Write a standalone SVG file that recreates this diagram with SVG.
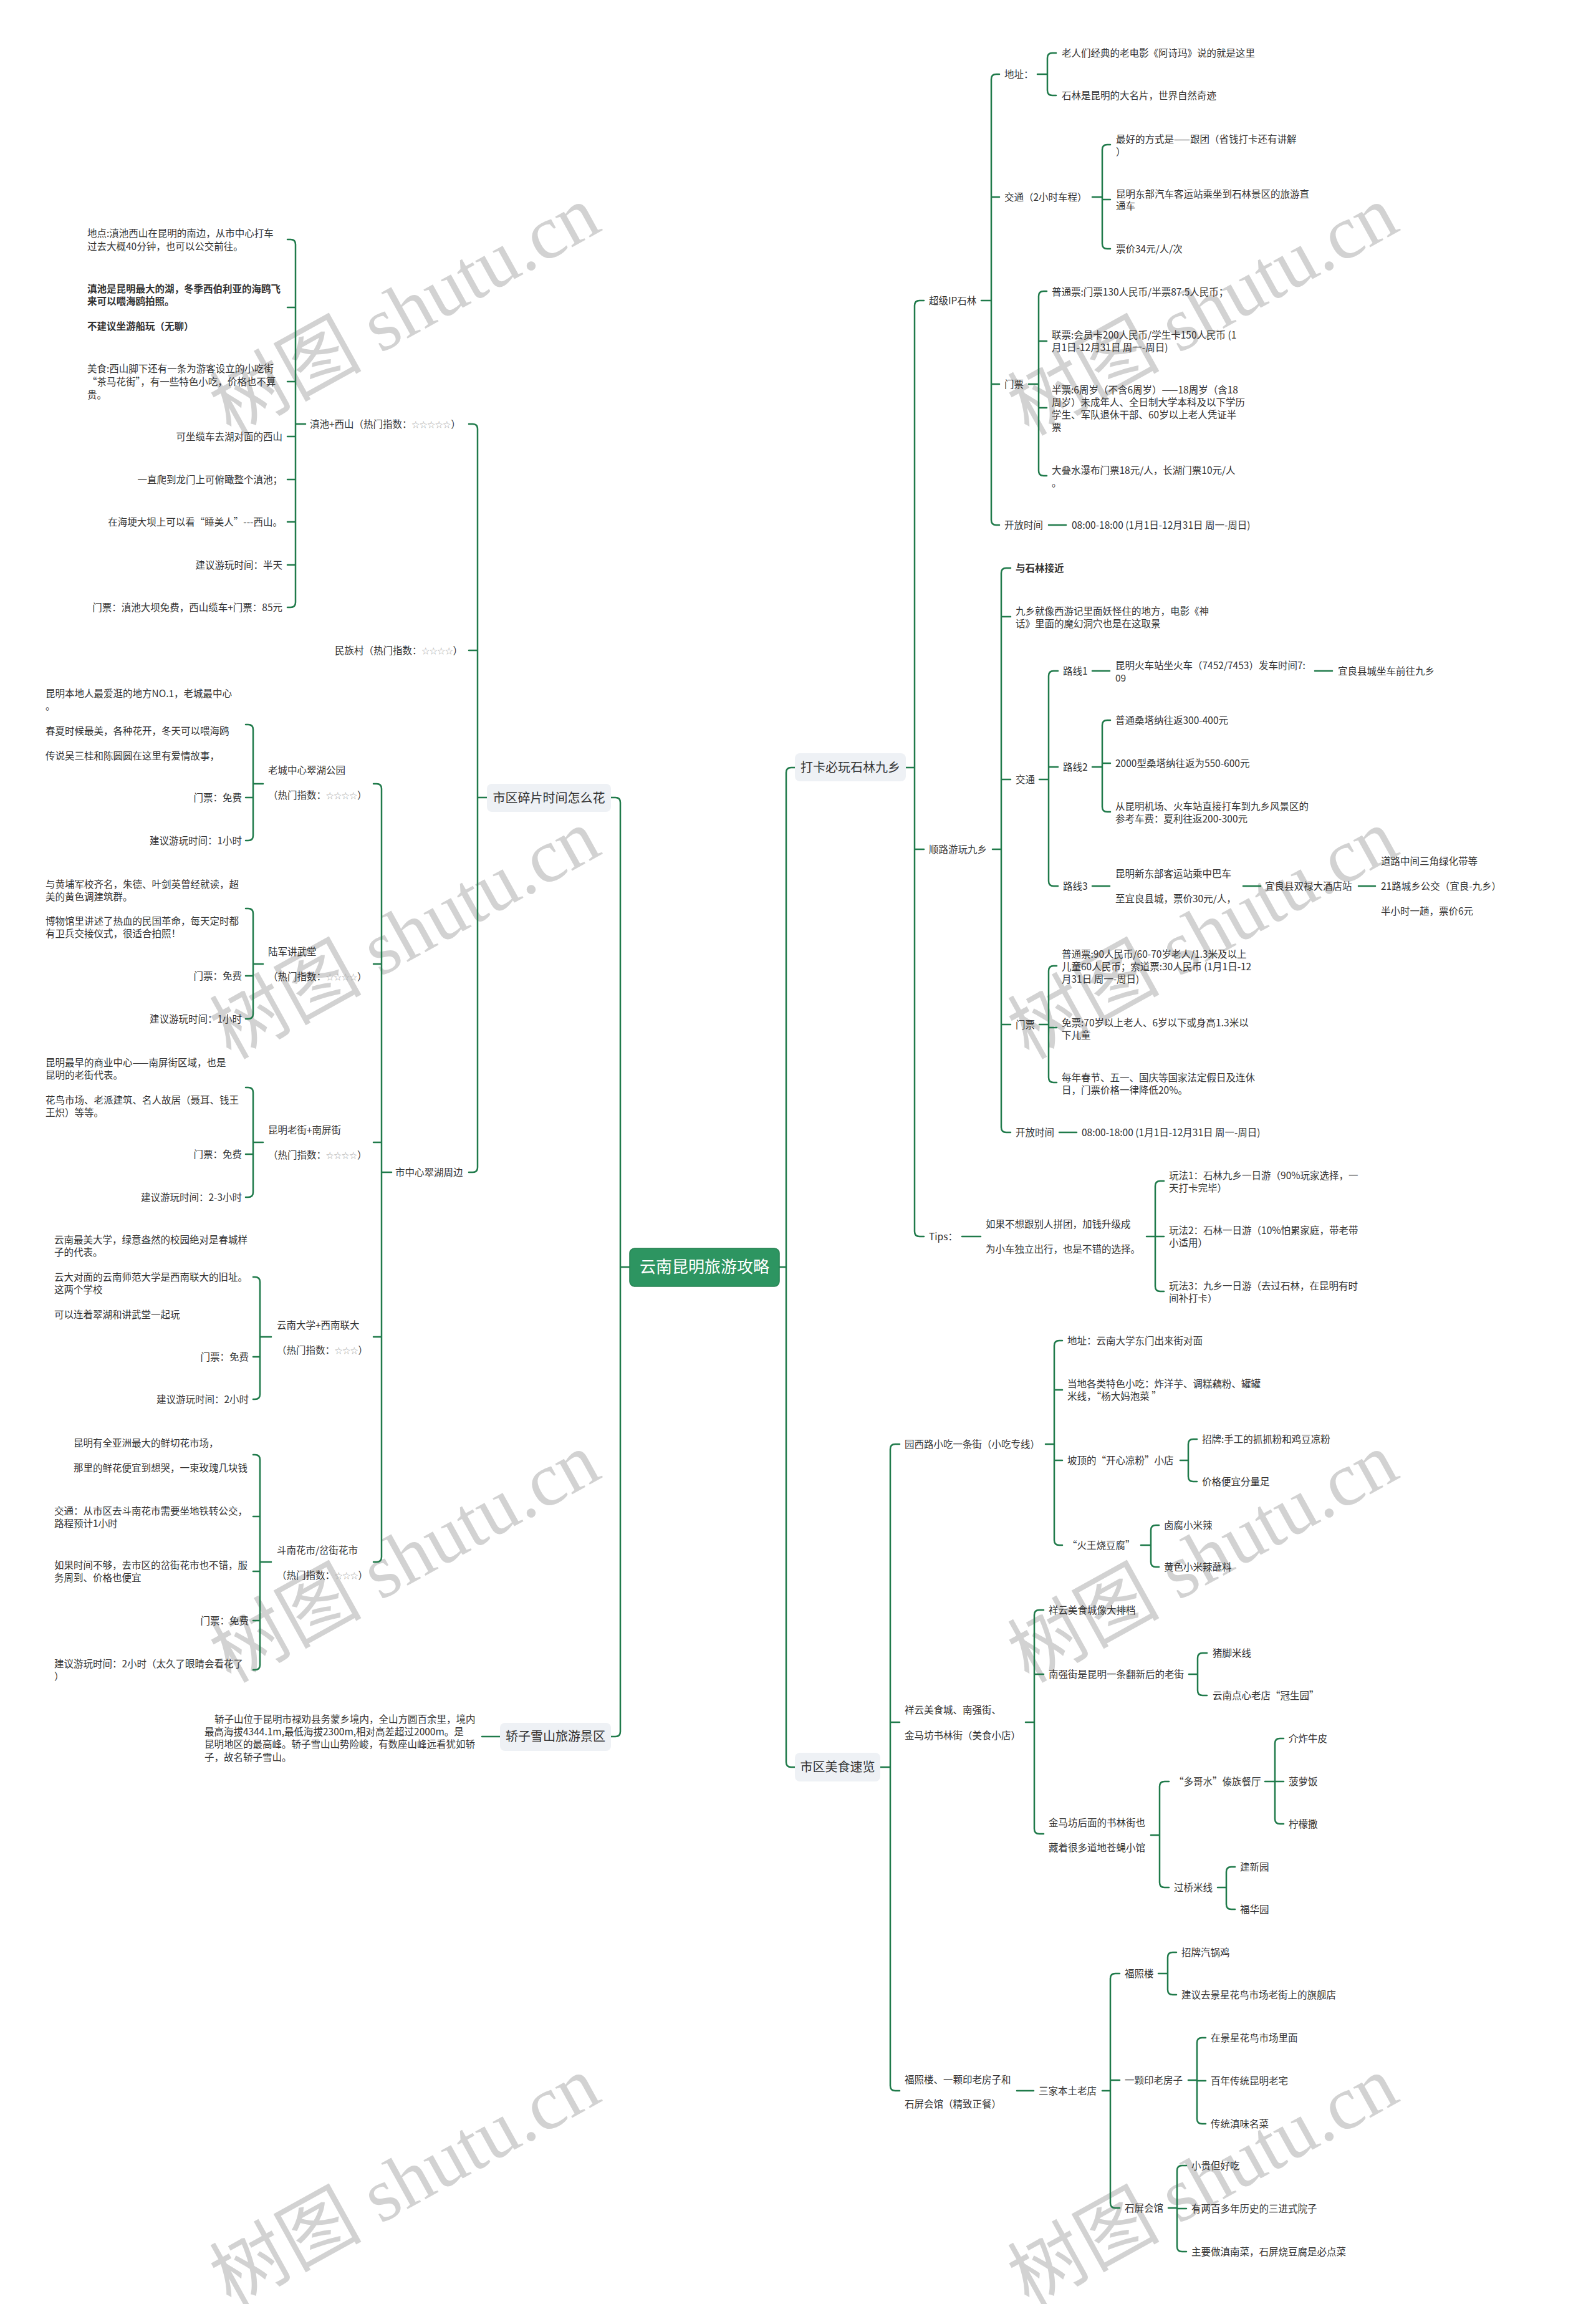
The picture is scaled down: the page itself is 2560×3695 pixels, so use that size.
<svg xmlns="http://www.w3.org/2000/svg" width="2560" height="3695" viewBox="0 0 2560 3695">
<style>
.t{font-family:"Noto Sans CJK SC","Liberation Sans",sans-serif;font-size:15.5px;fill:#333}
.e{text-anchor:end}
.b{font-weight:bold}
.s{font-size:12.5px;fill:#aaa}
.m{font-family:"Noto Sans CJK SC","Liberation Sans",sans-serif;font-size:20px;fill:#333;text-anchor:middle}
.r{font-family:"Noto Sans CJK SC","Liberation Sans",sans-serif;font-size:26px;fill:#fff;text-anchor:middle}
.box{fill:#eef1f5}
.c path{fill:none;stroke:#1f7a4a;stroke-width:2.5;stroke-linecap:round;stroke-linejoin:round}
.wm{font-size:122px;fill:#d2d2d2}
.wc{font-family:"Noto Sans CJK SC",sans-serif}
.wl{font-family:"Liberation Serif",serif}
</style>
<rect width="2560" height="3695" fill="#fff"/>
<g id="watermarks" class="wm">
<text transform="translate(370,700) rotate(-29)"><tspan class="wc">树图</tspan><tspan class="wl"> shutu.cn</tspan></text>
<text transform="translate(1650,700) rotate(-29)"><tspan class="wc">树图</tspan><tspan class="wl"> shutu.cn</tspan></text>
<text transform="translate(370,1700) rotate(-29)"><tspan class="wc">树图</tspan><tspan class="wl"> shutu.cn</tspan></text>
<text transform="translate(1650,1700) rotate(-29)"><tspan class="wc">树图</tspan><tspan class="wl"> shutu.cn</tspan></text>
<text transform="translate(370,2700) rotate(-29)"><tspan class="wc">树图</tspan><tspan class="wl"> shutu.cn</tspan></text>
<text transform="translate(1650,2700) rotate(-29)"><tspan class="wc">树图</tspan><tspan class="wl"> shutu.cn</tspan></text>
<text transform="translate(370,3700) rotate(-29)"><tspan class="wc">树图</tspan><tspan class="wl"> shutu.cn</tspan></text>
<text transform="translate(1650,3700) rotate(-29)"><tspan class="wc">树图</tspan><tspan class="wl"> shutu.cn</tspan></text>
</g>
<g id="connectors" class="c">
<path d="M1250 2032H1261M1275 1231H1269Q1261 1231 1261 1239V2826Q1261 2834 1269 2834H1275"/>
<path d="M1453 1231H1467M1482 482H1475Q1467 482 1467 490V1975Q1467 1983 1475 1983H1482M1467 1362H1482"/>
<path d="M1574 482H1590M1603 119H1598Q1590 119 1590 127V834Q1590 842 1598 842H1603M1590 316H1603M1590 616H1603"/>
<path d="M1664 119H1680M1694 85H1688Q1680 85 1680 93V145Q1680 153 1688 153H1694"/>
<path d="M1752 316H1768M1781 232H1776Q1768 232 1768 240V391Q1768 399 1776 399H1781M1768 320H1781"/>
<path d="M1650 616H1666M1679 467H1674Q1666 467 1666 475V755Q1666 763 1674 763H1679M1666 547H1679M1666 654H1679"/>
<path d="M1682 842H1710"/>
<path d="M1592 1362H1606M1621 911H1614Q1606 911 1606 919V1808Q1606 1816 1614 1816H1621M1606 989H1621M1606 1250H1621M1606 1643H1621"/>
<path d="M1667 1250H1682M1697 1076H1690Q1682 1076 1682 1084V1413Q1682 1421 1690 1421H1697M1682 1230H1697"/>
<path d="M1752 1076H1780M2109 1076H2137"/>
<path d="M1752 1230H1768M1781 1155H1776Q1768 1155 1768 1163V1294Q1768 1302 1776 1302H1781M1768 1224H1781"/>
<path d="M1752 1421H1780M1994 1421H2022M2179 1421H2206"/>
<path d="M1667 1643H1682M1695 1549H1690Q1682 1549 1682 1557V1728Q1682 1736 1690 1736H1695M1682 1648H1695"/>
<path d="M1699 1816H1727"/>
<path d="M1543 1983H1573M1839 1983H1853M1867 1894H1861Q1853 1894 1853 1902V2063Q1853 2071 1861 2071H1867M1853 1983H1867"/>
<path d="M1412 2834H1428M1443 2316H1436Q1428 2316 1428 2324V3345Q1428 3353 1436 3353H1443M1428 2762H1443"/>
<path d="M1677 2316H1691M1704 2150H1699Q1691 2150 1691 2158V2470Q1691 2478 1699 2478H1704M1691 2229H1704M1691 2342H1704"/>
<path d="M1893 2342H1906M1920 2308H1914Q1906 2308 1906 2316V2368Q1906 2376 1914 2376H1920"/>
<path d="M1830 2478H1846M1859 2446H1854Q1846 2446 1846 2454V2505Q1846 2513 1854 2513H1859"/>
<path d="M1645 2762H1659M1674 2582H1667Q1659 2582 1659 2590V2933Q1659 2941 1667 2941H1674M1659 2685H1674"/>
<path d="M1907 2685H1921M1936 2651H1929Q1921 2651 1921 2659V2711Q1921 2719 1929 2719H1936"/>
<path d="M1846 2943H1860M1875 2857H1868Q1860 2857 1860 2865V3019Q1860 3027 1868 3027H1875"/>
<path d="M2029 2857H2045M2059 2788H2053Q2045 2788 2045 2796V2917Q2045 2925 2053 2925H2059M2045 2857H2059"/>
<path d="M1953 3027H1967M1981 2994H1975Q1967 2994 1967 3002V3054Q1967 3062 1975 3062H1981"/>
<path d="M1631 3353H1658"/>
<path d="M1768 3353H1781M1796 3165H1789Q1781 3165 1781 3173V3533Q1781 3541 1789 3541H1796M1781 3336H1796"/>
<path d="M1858 3165H1873M1887 3131H1881Q1873 3131 1873 3139V3191Q1873 3199 1881 3199H1887"/>
<path d="M1906 3336H1920M1934 3268H1928Q1920 3268 1920 3276V3398Q1920 3406 1928 3406H1934M1920 3337H1934"/>
<path d="M1874 3541H1888M1903 3473H1896Q1888 3473 1888 3481V3603Q1888 3611 1896 3611H1903M1888 3542H1903"/>
<path d="M1010 2032H995M980 1279H987Q995 1279 995 1287V2777Q995 2785 987 2785H980"/>
<path d="M781 1279H766M752 680H758Q766 680 766 688V1872Q766 1880 758 1880H752M766 1043H752"/>
<path d="M490 680H474M461 384H466Q474 384 474 392V966Q474 974 466 974H461M474 493H461M474 612H461M474 700H461M474 769H461M474 837H461M474 906H461"/>
<path d="M628 1880H612M599 1257H604Q612 1257 612 1265V2497Q612 2505 604 2505H599M612 1546H599M612 1832H599M612 2144H599"/>
<path d="M422 1257H406M394 1162H398Q406 1162 406 1170V1340Q406 1348 398 1348H394M406 1279H394"/>
<path d="M422 1546H406M394 1457H398Q406 1457 406 1465V1626Q406 1634 398 1634H394M406 1565H394"/>
<path d="M422 1832H406M394 1744H398Q406 1744 406 1752V1912Q406 1920 398 1920H394M406 1851H394"/>
<path d="M435 2144H417M406 2048H409Q417 2048 417 2056V2236Q417 2244 409 2244H406M417 2176H406"/>
<path d="M435 2505H417M406 2333H409Q417 2333 417 2341V2670Q417 2678 409 2678H406M417 2432H406M417 2520H406M417 2599H406"/>
<path d="M802 2785H773"/>
</g>
<g id="root"><rect x="1010" y="2002" width="240" height="61" rx="8" fill="#2d9561" stroke="#23804f" stroke-width="1.5"/><text class="r" x="1130" y="2041">云南昆明旅游攻略</text></g>
<g id="b-daka"><rect class="box" x="1275" y="1208" width="178" height="45" rx="8"/><text class="m" x="1364" y="1238">打卡必玩石林九乡</text></g>
<g id="b-meishi"><rect class="box" x="1275" y="2811" width="137" height="46" rx="8"/><text class="m" x="1343.5" y="2841">市区美食速览</text></g>
<g id="b-suipian"><rect class="box" x="781" y="1257" width="199" height="45" rx="8"/><text class="m" x="880.5" y="1287">市区碎片时间怎么花</text></g>
<g id="b-jiaozi"><rect class="box" x="802" y="2763" width="178" height="45" rx="8"/><text class="m" x="891" y="2792">轿子雪山旅游景区</text></g>
<g id="n-chaoji" class="t"><text x="1490" y="488">超级IP石林</text></g>
<g id="n-dizhi" class="t"><text x="1611" y="125">地址：</text></g>
<g id="n-dizhi1" class="t"><text x="1703" y="91">老人们经典的老电影《阿诗玛》说的就是这里</text></g>
<g id="n-dizhi2" class="t"><text x="1703" y="159">石林是昆明的大名片，世界自然奇迹</text></g>
<g id="n-jt" class="t"><text x="1611" y="322">交通（2小时车程）</text></g>
<g id="n-jt1" class="t"><text x="1790" y="229">最好的方式是——跟团（省钱打卡还有讲解</text><text x="1790" y="249">）</text></g>
<g id="n-jt2" class="t"><text x="1790" y="317">昆明东部汽车客运站乘坐到石林景区的旅游直</text><text x="1790" y="336">通车</text></g>
<g id="n-jt3" class="t"><text x="1790" y="405">票价34元/人/次</text></g>
<g id="n-mp" class="t"><text x="1611" y="622">门票</text></g>
<g id="n-mp1" class="t"><text x="1687" y="474">普通票:门票130人民币/半票87.5人民币；</text></g>
<g id="n-mp2" class="t"><text x="1687" y="543">联票:会员卡200人民币/学生卡150人民币 (1</text><text x="1687" y="563">月1日-12月31日 周一-周日)</text></g>
<g id="n-mp3" class="t"><text x="1687" y="631">半票:6周岁（不含6周岁）——18周岁（含18</text><text x="1687" y="651">周岁）未成年人、全日制大学本科及以下学历</text><text x="1687" y="671">学生、军队退休干部、60岁以上老人凭证半</text><text x="1687" y="691">票</text></g>
<g id="n-mp4" class="t"><text x="1687" y="760">大叠水瀑布门票18元/人，长湖门票10元/人</text><text x="1687" y="780">。</text></g>
<g id="n-kf" class="t"><text x="1611" y="848">开放时间</text></g>
<g id="n-kf1" class="t"><text x="1719" y="848">08:00-18:00 (1月1日-12月31日 周一-周日)</text></g>
<g id="n-shunlu" class="t"><text x="1490" y="1368">顺路游玩九乡</text></g>
<g id="n-sl1" class="t b"><text x="1629" y="917">与石林接近</text></g>
<g id="n-sl2" class="t"><text x="1629" y="986">九乡就像西游记里面妖怪住的地方，电影《神</text><text x="1629" y="1006">话》里面的魔幻洞穴也是在这取景</text></g>
<g id="n-jt9" class="t"><text x="1629" y="1256">交通</text></g>
<g id="n-lx1" class="t"><text x="1705" y="1082">路线1</text></g>
<g id="n-lx1a" class="t"><text x="1789" y="1073">昆明火车站坐火车（7452/7453）发车时间7:</text><text x="1789" y="1093">09</text></g>
<g id="n-lx1b" class="t"><text x="2146" y="1082">宜良县城坐车前往九乡</text></g>
<g id="n-lx2" class="t"><text x="1705" y="1236">路线2</text></g>
<g id="n-lx2a" class="t"><text x="1789" y="1161">普通桑塔纳往返300-400元</text></g>
<g id="n-lx2b" class="t"><text x="1789" y="1230">2000型桑塔纳往返为550-600元</text></g>
<g id="n-lx2c" class="t"><text x="1789" y="1299">从昆明机场、火车站直接打车到九乡风景区的</text><text x="1789" y="1319">参考车费：夏利往返200-300元</text></g>
<g id="n-lx3" class="t"><text x="1705" y="1427">路线3</text></g>
<g id="n-lx3a" class="t"><text x="1789" y="1407">昆明新东部客运站乘中巴车</text><text x="1789" y="1447">至宜良县城，票价30元/人，</text></g>
<g id="n-lx3b" class="t"><text x="2029" y="1427">宜良县双禄大酒店站</text></g>
<g id="n-lx3c" class="t"><text x="2215" y="1387">道路中间三角绿化带等</text><text x="2215" y="1427">21路城乡公交（宜良-九乡）</text><text x="2215" y="1467">半小时一趟，票价6元</text></g>
<g id="n-mp9" class="t"><text x="1629" y="1649">门票</text></g>
<g id="n-mp9a" class="t"><text x="1703" y="1536">普通票:90人民币/60-70岁老人/1.3米及以上</text><text x="1703" y="1556">儿童60人民币；索道票:30人民币 (1月1日-12</text><text x="1703" y="1576">月31日 周一-周日)</text></g>
<g id="n-mp9b" class="t"><text x="1703" y="1646">免票:70岁以上老人、6岁以下或身高1.3米以</text><text x="1703" y="1666">下儿童</text></g>
<g id="n-mp9c" class="t"><text x="1703" y="1734">每年春节、五一、国庆等国家法定假日及连休</text><text x="1703" y="1754">日，门票价格一律降低20%。</text></g>
<g id="n-kf9" class="t"><text x="1629" y="1822">开放时间</text></g>
<g id="n-kf9a" class="t"><text x="1735" y="1822">08:00-18:00 (1月1日-12月31日 周一-周日)</text></g>
<g id="n-tips" class="t"><text x="1490" y="1989">Tips：</text></g>
<g id="n-tips1" class="t"><text x="1581" y="1969">如果不想跟别人拼团，加钱升级成</text><text x="1581" y="2009">为小车独立出行，也是不错的选择。</text></g>
<g id="n-wf1" class="t"><text x="1875" y="1891">玩法1：石林九乡一日游（90%玩家选择，一</text><text x="1875" y="1911">天打卡完毕）</text></g>
<g id="n-wf2" class="t"><text x="1875" y="1979">玩法2：石林一日游（10%怕累家庭，带老带</text><text x="1875" y="1999">小适用）</text></g>
<g id="n-wf3" class="t"><text x="1875" y="2068">玩法3：九乡一日游（去过石林，在昆明有时</text><text x="1875" y="2088">间补打卡）</text></g>
<g id="n-yx" class="t"><text x="1451" y="2322">园西路小吃一条街（小吃专线）</text></g>
<g id="n-yx1" class="t"><text x="1712" y="2156">地址：云南大学东门出来街对面</text></g>
<g id="n-yx2" class="t"><text x="1712" y="2225">当地各类特色小吃：炸洋芋、调糕藕粉、罐罐</text><text x="1712" y="2245">米线，“杨大妈泡菜 ”</text></g>
<g id="n-yx3" class="t"><text x="1712" y="2348">坡顶的“开心凉粉”小店</text></g>
<g id="n-yx3a" class="t"><text x="1928" y="2314">招牌:手工的抓抓粉和鸡豆凉粉</text></g>
<g id="n-yx3b" class="t"><text x="1928" y="2382">价格便宜分量足</text></g>
<g id="n-yx4" class="t"><text x="1712" y="2484">“火王烧豆腐”</text></g>
<g id="n-yx4a" class="t"><text x="1867" y="2452">卤腐小米辣</text></g>
<g id="n-yx4b" class="t"><text x="1867" y="2519">黄色小米辣蘸料</text></g>
<g id="n-xy" class="t"><text x="1451" y="2748">祥云美食城、南强街、</text><text x="1451" y="2789">金马坊书林街（美食小店）</text></g>
<g id="n-xy1" class="t"><text x="1682" y="2588">祥云美食城像大排档</text></g>
<g id="n-xy2" class="t"><text x="1682" y="2691">南强街是昆明一条翻新后的老街</text></g>
<g id="n-xy2a" class="t"><text x="1945" y="2657">猪脚米线</text></g>
<g id="n-xy2b" class="t"><text x="1945" y="2725">云南点心老店“冠生园”</text></g>
<g id="n-xy3" class="t"><text x="1682" y="2929">金马坊后面的书林街也</text><text x="1682" y="2969">藏着很多道地苍蝇小馆</text></g>
<g id="n-dg" class="t"><text x="1883" y="2863">“多哥水”傣族餐厅</text></g>
<g id="n-dg1" class="t"><text x="2067" y="2794">介炸牛皮</text></g>
<g id="n-dg2" class="t"><text x="2067" y="2863">菠萝饭</text></g>
<g id="n-dg3" class="t"><text x="2067" y="2931">柠檬撒</text></g>
<g id="n-gq" class="t"><text x="1883" y="3033">过桥米线</text></g>
<g id="n-gq1" class="t"><text x="1989" y="3000">建新园</text></g>
<g id="n-gq2" class="t"><text x="1989" y="3068">福华园</text></g>
<g id="n-fz" class="t"><text x="1451" y="3341">福照楼、一颗印老房子和</text><text x="1451" y="3380">石屏会馆（精致正餐）</text></g>
<g id="n-sj" class="t"><text x="1666" y="3359">三家本土老店</text></g>
<g id="n-fzl" class="t"><text x="1804" y="3171">福照楼</text></g>
<g id="n-fzl1" class="t"><text x="1895" y="3137">招牌汽锅鸡</text></g>
<g id="n-fzl2" class="t"><text x="1895" y="3205">建议去景星花鸟市场老街上的旗舰店</text></g>
<g id="n-yky" class="t"><text x="1804" y="3342">一颗印老房子</text></g>
<g id="n-yky1" class="t"><text x="1942" y="3274">在景星花鸟市场里面</text></g>
<g id="n-yky2" class="t"><text x="1942" y="3343">百年传统昆明老宅</text></g>
<g id="n-yky3" class="t"><text x="1942" y="3412">传统滇味名菜</text></g>
<g id="n-sp" class="t"><text x="1804" y="3547">石屏会馆</text></g>
<g id="n-sp1" class="t"><text x="1911" y="3479">小贵但好吃</text></g>
<g id="n-sp2" class="t"><text x="1911" y="3548">有两百多年历史的三进式院子</text></g>
<g id="n-sp3" class="t"><text x="1911" y="3617">主要做滇南菜，石屏烧豆腐是必点菜</text></g>
<g id="n-dc" class="t"><text x="497" y="686">滇池+西山（热门指数：<tspan class="s">☆☆☆☆☆</tspan>）</text></g>
<g id="n-dc1" class="t"><text x="140" y="380">地点:滇池西山在昆明的南边，从市中心打车</text><text x="140" y="401">过去大概40分钟，也可以公交前往。</text></g>
<g id="n-dc2" class="t b"><text x="140" y="469">滇池是昆明最大的湖，冬季西伯利亚的海鸥飞</text><text x="140" y="489">来可以喂海鸥拍照。</text><text x="140" y="529">不建议坐游船玩（无聊）</text></g>
<g id="n-dc3" class="t"><text x="140" y="597">美食:西山脚下还有一条为游客设立的小吃街</text><text x="140" y="618">“茶马花街”，有一些特色小吃，价格也不算</text><text x="140" y="639">贵。</text></g>
<g id="n-dc4" class="t e"><text x="453" y="706">可坐缆车去湖对面的西山</text></g>
<g id="n-dc5" class="t e"><text x="453" y="775">一直爬到龙门上可俯瞰整个滇池；</text></g>
<g id="n-dc6" class="t e"><text x="453" y="843">在海埂大坝上可以看“睡美人”---西山。</text></g>
<g id="n-dc7" class="t e"><text x="453" y="912">建议游玩时间：半天</text></g>
<g id="n-dc8" class="t e"><text x="453" y="980">门票：滇池大坝免费，西山缆车+门票：85元</text></g>
<g id="n-mzc" class="t"><text x="537" y="1049">民族村（热门指数：<tspan class="s">☆☆☆☆</tspan>）</text></g>
<g id="n-szx" class="t"><text x="634" y="1886">市中心翠湖周边</text></g>
<g id="n-lc" class="t"><text x="430" y="1241">老城中心翠湖公园</text><text x="430" y="1281">（热门指数：<tspan class="s">☆☆☆☆</tspan>）</text></g>
<g id="n-lc1" class="t"><text x="73" y="1118">昆明本地人最爱逛的地方NO.1，老城最中心</text><text x="73" y="1138">。</text><text x="73" y="1178">春夏时候最美，各种花开，冬天可以喂海鸥</text><text x="73" y="1218">传说吴三桂和陈圆圆在这里有爱情故事，</text></g>
<g id="n-lc2" class="t e"><text x="388" y="1285">门票：免费</text></g>
<g id="n-lc3" class="t e"><text x="388" y="1354">建议游玩时间：1小时</text></g>
<g id="n-lj" class="t"><text x="430" y="1532">陆军讲武堂</text><text x="430" y="1572">（热门指数：<tspan class="s">☆☆☆☆</tspan>）</text></g>
<g id="n-lj1" class="t"><text x="73" y="1424">与黄埔军校齐名，朱德、叶剑英曾经就读，超</text><text x="73" y="1444">美的黄色调建筑群。</text><text x="73" y="1483">博物馆里讲述了热血的民国革命，每天定时都</text><text x="73" y="1503">有卫兵交接仪式，很适合拍照！</text></g>
<g id="n-lj2" class="t e"><text x="388" y="1571">门票：免费</text></g>
<g id="n-lj3" class="t e"><text x="388" y="1640">建议游玩时间：1小时</text></g>
<g id="n-lje" class="t"><text x="430" y="1818">昆明老街+南屏街</text><text x="430" y="1858">（热门指数：<tspan class="s">☆☆☆☆</tspan>）</text></g>
<g id="n-lje1" class="t"><text x="73" y="1710">昆明最早的商业中心——南屏街区域，也是</text><text x="73" y="1730">昆明的老街代表。</text><text x="73" y="1770">花鸟市场、老派建筑、名人故居（聂耳、钱王</text><text x="73" y="1790">王炽）等等。</text></g>
<g id="n-lje2" class="t e"><text x="388" y="1857">门票：免费</text></g>
<g id="n-lje3" class="t e"><text x="388" y="1926">建议游玩时间：2-3小时</text></g>
<g id="n-yd" class="t"><text x="444" y="2131">云南大学+西南联大</text><text x="444" y="2171">（热门指数：<tspan class="s">☆☆☆</tspan>）</text></g>
<g id="n-yd1" class="t"><text x="87" y="1994">云南最美大学，绿意盎然的校园绝对是春城样</text><text x="87" y="2014">子的代表。</text><text x="87" y="2054">云大对面的云南师范大学是西南联大的旧址。</text><text x="87" y="2074">这两个学校</text><text x="87" y="2114">可以连着翠湖和讲武堂一起玩</text></g>
<g id="n-yd2" class="t e"><text x="399" y="2182">门票：免费</text></g>
<g id="n-yd3" class="t e"><text x="399" y="2250">建议游玩时间：2小时</text></g>
<g id="n-dn" class="t"><text x="444" y="2492">斗南花市/岔街花市</text><text x="444" y="2532">（热门指数：<tspan class="s">☆☆☆</tspan>）</text></g>
<g id="n-dn1" class="t"><text x="118" y="2320">昆明有全亚洲最大的鲜切花市场，</text><text x="118" y="2360">那里的鲜花便宜到想哭，一束玫瑰几块钱</text></g>
<g id="n-dn2" class="t"><text x="87" y="2429">交通：从市区去斗南花市需要坐地铁转公交，</text><text x="87" y="2449">路程预计1小时</text></g>
<g id="n-dn3" class="t"><text x="87" y="2516">如果时间不够，去市区的岔街花市也不错，服</text><text x="87" y="2536">务周到、价格也便宜</text></g>
<g id="n-dn4" class="t e"><text x="399" y="2605">门票：免费</text></g>
<g id="n-dn5" class="t"><text x="87" y="2674">建议游玩时间：2小时（太久了眼睛会看花了</text><text x="87" y="2694">）</text></g>
<g id="n-jz1" class="t"><text x="344" y="2763">轿子山位于昆明市禄劝县务蒙乡境内，全山方圆百余里，境内</text><text x="328" y="2783">最高海拔4344.1m,最低海拔2300m,相对高差超过2000m。是</text><text x="328" y="2803">昆明地区的最高峰。轿子雪山山势险峻，有数座山峰远看犹如轿</text><text x="328" y="2824">子，故名轿子雪山。</text></g>
</svg>
